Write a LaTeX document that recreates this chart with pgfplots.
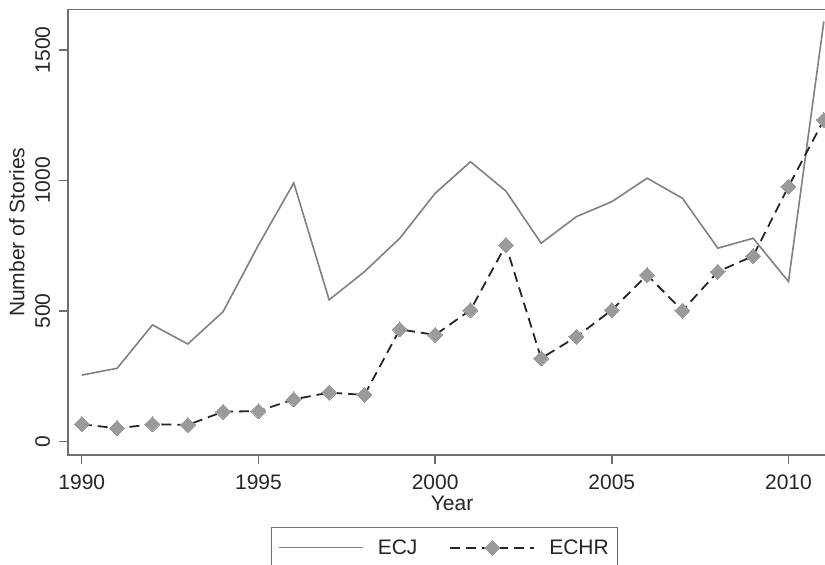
\documentclass[border=0pt]{standalone}
\usepackage{fontspec}
\setmainfont{Liberation Sans}
\usepackage{pgfplots}
\pgfplotsset{compat=1.18}
\definecolor{framegray}{HTML}{6E6E6E}
\definecolor{ecjgray}{HTML}{808080}
\definecolor{markgray}{HTML}{9A9A9A}
\begin{document}
\begin{tikzpicture}[x=1pt,y=1pt]
\begin{axis}[
  at={(68pt,110pt)}, anchor=south west,
  scale only axis, width=759pt, height=445.5pt,
  xmin=1989.61, xmax=2011.09, ymin=-51, ymax=1655,
  xtick={1990,1995,2000,2005,2010},
  ytick={0,500,1000,1500},
  tick align=outside, tick pos=left,
  major tick length=9pt,
  axis line style={framegray, line width=1.4pt},
  every tick/.style={framegray, line width=1.4pt},
  /pgf/number format/assume math mode=true,
  /pgf/number format/1000 sep={},
  font=\fontsize{21}{25}\selectfont,
  ticklabel style={font=\fontsize{21}{25}\selectfont, text=black!85},
  xticklabel style={anchor=base, yshift=-25pt},
  yticklabel style={rotate=90, anchor=base, yshift=9pt},
  xlabel={Year},
  ylabel={Number of Stories},
  xlabel style={at={(axis description cs:0.506,-0.1245)}, anchor=base, font=\fontsize{21}{25}\selectfont, text=black!85},
  ylabel style={at={(axis description cs:-0.0675,0.5)}, anchor=center, font=\fontsize{21}{25}\selectfont, text=black!85},
  legend columns=2,
  legend style={at={(axis description cs:0.496,-0.1616)}, anchor=north,
    draw=framegray, line width=1.2pt, inner xsep=7pt, inner ysep=10pt,
    font=\fontsize{21}{25}\selectfont, text=black!85,
    /tikz/every odd column/.append style={column sep=12pt},
    /tikz/every even column/.append style={column sep=30pt}},
  legend image code/.code={\draw[mark repeat=2,mark phase=2,#1] plot coordinates {(0pt,0pt) (42pt,0pt) (84pt,0pt)};},
  clip=false,
]
\addplot[ecjgray, line width=1.6pt, mark=none] coordinates {
(1990,255) (1991,281) (1992,447) (1993,374) (1994,498) (1995,753)
(1996,991) (1997,543) (1998,651) (1999,779) (2000,951) (2001,1072)
(2002,960) (2003,760) (2004,862) (2005,919) (2006,1009) (2007,932)
(2008,741) (2009,779) (2010,613) (2011,1609)
};
\addlegendentry{ECJ}
\addplot[black!85, line width=1.8pt, dash pattern=on 10pt off 6pt,
  mark=square*, mark size=5.3pt, mark options={solid, rotate=45, fill=markgray, draw=markgray, line width=0pt}] coordinates {
(1990,67) (1991,51) (1992,67) (1993,64) (1994,115) (1995,117)
(1996,162) (1997,188) (1998,179) (1999,430) (2000,409) (2001,504)
(2002,753) (2003,319) (2004,402) (2005,504) (2006,638) (2007,502)
(2008,651) (2009,711) (2010,977) (2011,1232)
};
\addlegendentry{ECHR}
\end{axis}
\pgfresetboundingbox
\useasboundingbox (0pt,0pt) rectangle (825pt,565pt);
\end{tikzpicture}
\end{document}
